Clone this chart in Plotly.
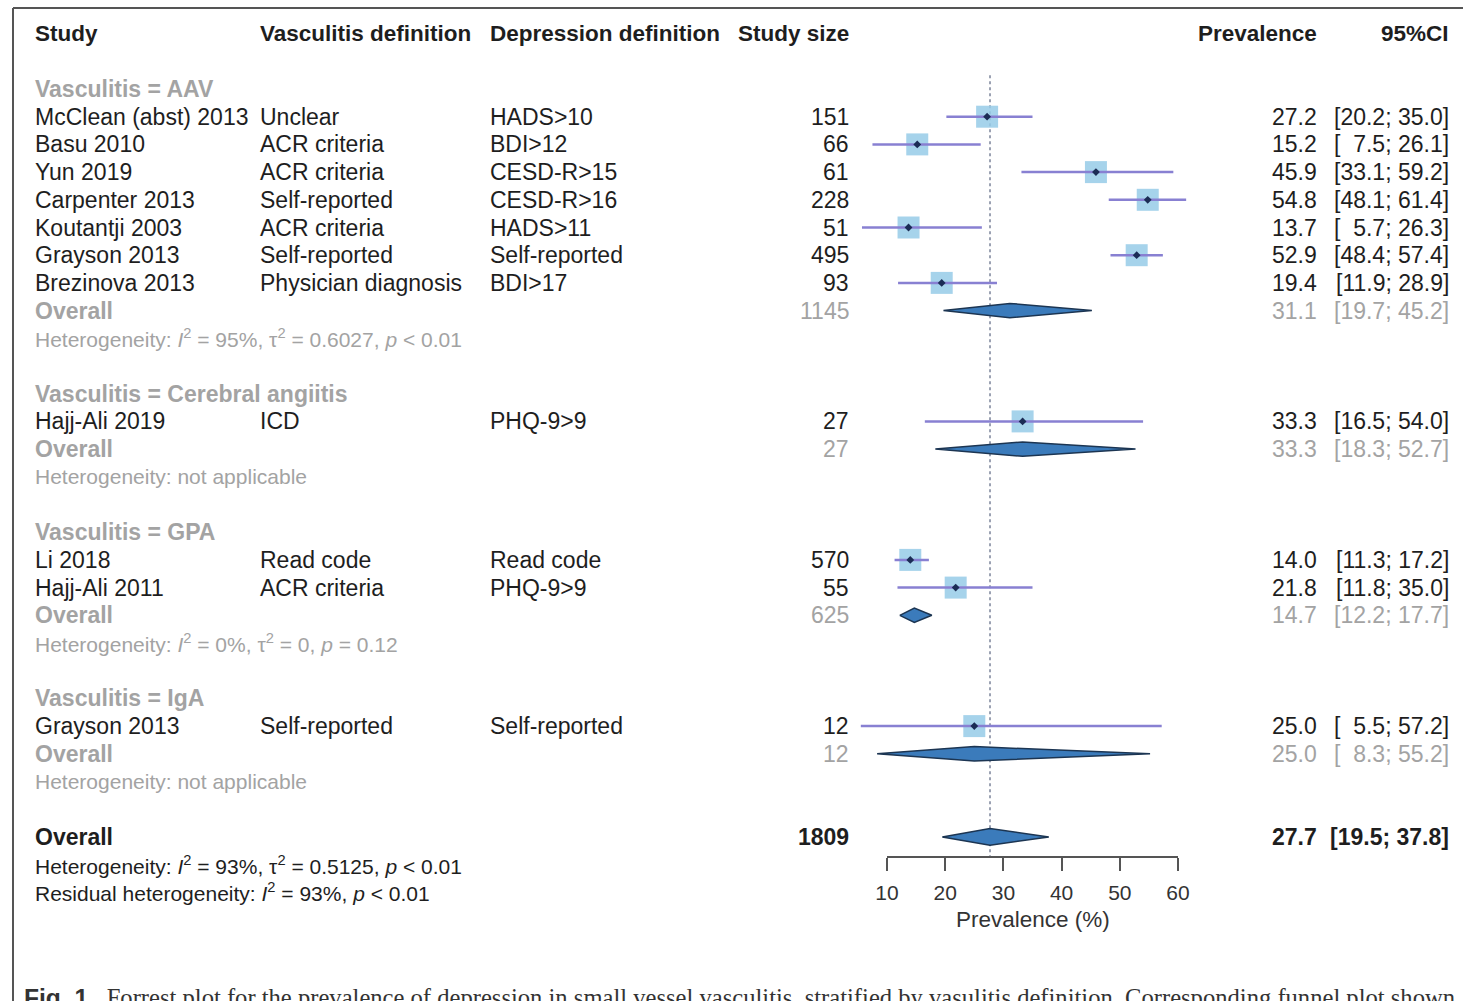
import plotly.graph_objects as go

W, H = 1463, 1001

# ---------------- data ----------------
groups = ["AAV", "Cerebral angiitis", "GPA", "IgA"]
study_group = ["AAV", "AAV", "AAV", "AAV", "AAV", "AAV", "AAV",
               "Cerebral angiitis", "GPA", "GPA", "IgA"]
studies = ["McClean (abst) 2013", "Basu 2010", "Yun 2019", "Carpenter 2013",
           "Koutantji 2003", "Grayson 2013", "Brezinova 2013", "Hajj-Ali 2019",
           "Li 2018", "Hajj-Ali 2011", "Grayson 2013"]
vasc_def = ["Unclear", "ACR criteria", "ACR criteria", "Self-reported",
            "ACR criteria", "Self-reported", "Physician diagnosis", "ICD",
            "Read code", "ACR criteria", "Self-reported"]
dep_def = ["HADS>10", "BDI>12", "CESD-R>15", "CESD-R>16", "HADS>11",
           "Self-reported", "BDI>17", "PHQ-9>9", "Read code", "PHQ-9>9",
           "Self-reported"]
study_n = [151, 66, 61, 228, 51, 495, 93, 27, 570, 55, 12]
study_est = [27.2, 15.2, 45.9, 54.8, 13.7, 52.9, 19.4, 33.3, 14.0, 21.8, 25.0]
study_lo = [20.2, 7.5, 33.1, 48.1, 5.7, 48.4, 11.9, 16.5, 11.3, 11.8, 5.5]
study_hi = [35.0, 26.1, 59.2, 61.4, 26.3, 57.4, 28.9, 54.0, 17.2, 35.0, 57.2]

group_n = [1145, 27, 625, 12]
group_est = [31.1, 33.3, 14.7, 25.0]
group_lo = [19.7, 18.3, 12.2, 8.3]
group_hi = [45.2, 52.7, 17.7, 55.2]
group_het = [
    "<i>I</i><sup>2</sup> = 95%, τ<sup>2</sup> = 0.6027, <i>p</i> &lt; 0.01",
    "not applicable",
    "<i>I</i><sup>2</sup> = 0%, τ<sup>2</sup> = 0, <i>p</i> = 0.12",
    "not applicable",
]

overall_n = 1809
overall_est = 27.7
overall_lo = 19.5
overall_hi = 37.8
overall_het = "<i>I</i><sup>2</sup> = 93%, τ<sup>2</sup> = 0.5125, <i>p</i> &lt; 0.01"
resid_het = "<i>I</i><sup>2</sup> = 93%, <i>p</i> &lt; 0.01"

tick_vals = [10, 20, 30, 40, 50, 60]
axis_title = "Prevalence (%)"
headers = ["Study", "Vasculitis definition", "Depression definition",
           "Study size", "Prevalence", "95%CI"]
caption_lead = "Fig. 1"
caption = ("Forrest plot for the prevalence of depression in small vessel vasculitis, "
           "stratified by vasulitis definition. Corresponding funnel plot shown")

# ---------------- layout constants (pixels) ----------------
FONT = "Liberation Sans, Arial, sans-serif"
BLACK = "#1e1e1e"
GRAY = "#a3a3a3"
ROW0_PX = 33.6
ROW_PX = 27.7
AXIS_PX = 857
T_LO_PX, T_HI_PX = 887, 1178
DOM_L_PX, DOM_R_PX = 820, 1240
COL_STUDY, COL_VASC, COL_DEP = 34, 259, 489
COL_N, COL_EST, COL_CI = 850, 1318, 1450
BODY = 23
HET = 21

ppu = (T_HI_PX - T_LO_PX) / (tick_vals[-1] - tick_vals[0])
x_range = [tick_vals[0] + (DOM_L_PX - T_LO_PX) / ppu,
           tick_vals[0] + (DOM_R_PX - T_LO_PX) / ppu]
y_axis_row = (AXIS_PX - ROW0_PX) / ROW_PX
y_bottom = (H - ROW0_PX) / ROW_PX
y_top = -ROW0_PX / ROW_PX


def fmt_ci(lo, hi):
    def f(v):
        s = f"{v:.1f}"
        return ("\u2007" + s) if v < 10 else s
    return f"[{f(lo)}; {f(hi)}]"


annotations = []


def ann(text, xpx, row, anchor="left", color=BLACK, size=BODY, bold=False):
    if bold:
        text = f"<b>{text}</b>"
    annotations.append(dict(
        text=text, x=xpx / W, xref="paper", y=row, yref="y",
        xanchor=anchor, yanchor="middle", showarrow=False,
        font=dict(family=FONT, size=size, color=color), borderpad=0,
    ))


# header
hdr_x = [(COL_STUDY, "left"), (COL_VASC, "left"), (COL_DEP, "left"),
         (COL_N, "right"), (COL_EST, "right"), (COL_CI, "right")]
for (xp, a), h in zip(hdr_x, headers):
    ann(h, xp, 0, a, BLACK, 22.5, True)

# rows
row = 2
s_rows, g_rows = [], []
for gi, g in enumerate(groups):
    ann(f"Vasculitis = {g}", COL_STUDY, row, "left", GRAY, BODY, True)
    row += 1
    for i, sg in enumerate(study_group):
        if sg != g:
            continue
        s_rows.append(row)
        ann(studies[i], COL_STUDY, row)
        ann(vasc_def[i], COL_VASC, row)
        ann(dep_def[i], COL_DEP, row)
        ann(str(study_n[i]), COL_N, row, "right")
        ann(f"{study_est[i]:.1f}", COL_EST, row, "right")
        ann(fmt_ci(study_lo[i], study_hi[i]), COL_CI, row, "right")
        row += 1
    g_rows.append(row)
    ann("Overall", COL_STUDY, row, "left", GRAY, BODY, True)
    ann(str(group_n[gi]), COL_N, row, "right", GRAY)
    ann(f"{group_est[gi]:.1f}", COL_EST, row, "right", GRAY)
    ann(fmt_ci(group_lo[gi], group_hi[gi]), COL_CI, row, "right", GRAY)
    row += 1
    ann("Heterogeneity: " + group_het[gi], COL_STUDY, row, "left", GRAY, HET)
    row += 2

o_row = row
ann("Overall", COL_STUDY, o_row, "left", BLACK, BODY, True)
ann(str(overall_n), COL_N, o_row, "right", BLACK, BODY, True)
ann(f"<b>{overall_est:.1f}</b>", COL_EST, o_row, "right", BLACK, BODY)
ann(f"<b>{fmt_ci(overall_lo, overall_hi)}</b>", COL_CI, o_row, "right", BLACK, BODY)
ann("Heterogeneity: " + overall_het, COL_STUDY, o_row + 1, "left", BLACK, HET)
ann("Residual heterogeneity: " + resid_het, COL_STUDY, o_row + 2, "left", BLACK, HET)

# axis title
annotations.append(dict(
    text=axis_title, x=(tick_vals[0] + tick_vals[-1]) / 2, xref="x",
    y=1 - 919 / H, yref="paper", xanchor="center", yanchor="middle",
    showarrow=False, font=dict(family=FONT, size=22.5, color="#333333"),
))
# caption
annotations.append(dict(
    text=(f"<span style='font-family:Liberation Sans, Arial'><b>{caption_lead}</b></span>"
          f"\u2002 {caption}"),
    x=22 / W, xref="paper", y=1 - 997 / H, yref="paper",
    xanchor="left", yanchor="middle", showarrow=False,
    font=dict(family="Liberation Serif, Times New Roman, serif", size=24.6, color="#333333"),
))

fig = go.Figure()

# reference line
fig.add_trace(go.Scatter(
    x=[overall_est, overall_est], y=[1.5, y_axis_row], mode="lines",
    line=dict(color="#66708a", width=1.3, dash="dot"), hoverinfo="skip",
))

# squares
fig.add_trace(go.Scatter(
    x=study_est, y=s_rows, mode="markers",
    marker=dict(symbol="square", size=22, color="rgba(150,203,232,0.85)",
                line=dict(width=0)),
    hoverinfo="skip",
))

# CI lines
cx, cy = [], []
for lo, hi, r in zip(study_lo, study_hi, s_rows):
    cx += [lo, hi, None]
    cy += [r, r, None]
fig.add_trace(go.Scatter(
    x=cx, y=cy, mode="lines", line=dict(color="#8880d2", width=2.5),
    hoverinfo="skip",
))

# centre points
fig.add_trace(go.Scatter(
    x=study_est, y=s_rows, mode="markers",
    marker=dict(symbol="diamond", size=6, color="#1b2c55"), hoverinfo="skip",
))

# diamonds
HALF = 0.26
for est, lo, hi, r, hh in list(zip(group_est, group_lo, group_hi, g_rows, [HALF] * 4)) + \
        [(overall_est, overall_lo, overall_hi, o_row, 0.3)]:
    fig.add_trace(go.Scatter(
        x=[lo, est, hi, est, lo], y=[r, r - hh, r, r + hh, r],
        mode="lines", fill="toself", fillcolor="#3b7bbb",
        line=dict(color="#1c3552", width=1.5), hoverinfo="skip",
    ))

shapes = [
    # x-axis line spanning the tick range
    dict(type="line", xref="x", yref="paper", x0=tick_vals[0], x1=tick_vals[-1],
         y0=1 - AXIS_PX / H, y1=1 - AXIS_PX / H, line=dict(color="#555555", width=2)),
    # frame
    dict(type="line", xref="paper", yref="paper", x0=13 / W, x1=1,
         y0=1 - 8 / H, y1=1 - 8 / H, line=dict(color="#555555", width=2)),
    dict(type="line", xref="paper", yref="paper", x0=13 / W, x1=13 / W,
         y0=1 - 8 / H, y1=0, line=dict(color="#555555", width=2)),
]

fig.update_layout(
    width=W, height=H, margin=dict(l=0, r=0, t=0, b=0),
    paper_bgcolor="white", plot_bgcolor="white", showlegend=False,
    annotations=annotations, shapes=shapes,
    xaxis=dict(domain=[DOM_L_PX / W, DOM_R_PX / W], range=x_range,
               anchor="free", position=1 - AXIS_PX / H,
               tickvals=tick_vals, ticks="outside", ticklen=13, tickwidth=2,
               tickcolor="#555555", showline=False, showgrid=False, zeroline=False,
               tickfont=dict(family=FONT, size=21, color="#333333"),
               ticklabelstandoff=4, fixedrange=True),
    yaxis=dict(domain=[0, 1], range=[y_bottom, y_top],
               visible=False, showgrid=False, zeroline=False, fixedrange=True),
)

fig.write_html("out.html")
